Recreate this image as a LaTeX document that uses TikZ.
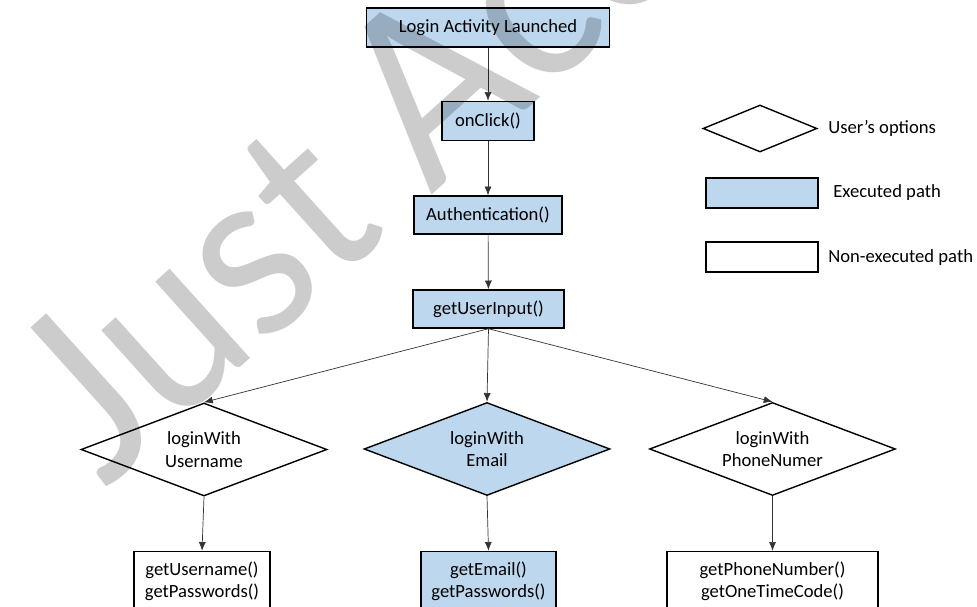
\documentclass[tikz,border=0pt]{standalone}
\usepackage{fontspec}
\setmainfont{Carlito}
\newfontfamily\wmfont{Lato}
\usetikzlibrary{shapes.geometric,arrows.meta}
\definecolor{execblue}{HTML}{BDD7EE}
\tikzset{
  lbl/.style={font=\fontsize{10.6}{12.8}\selectfont, align=center, inner sep=0pt},
  stepbox/.style={draw=black, line width=0.8pt, rectangle, lbl},
  exec/.style={fill=execblue},
  choice/.style={draw=black, line width=0.8pt, diamond, shape aspect=2.6, lbl,
    minimum width=4.92cm, minimum height=1.86cm},
  flow/.style={draw=black!80, line width=0.4pt, -{Latex[length=5pt,width=4pt]}},
  legendtxt/.style={font=\fontsize{10.6}{12.8}\selectfont, anchor=west, inner sep=0pt}
}
\begin{document}
\begin{tikzpicture}[x=0.02cm, y=-0.02cm]
\useasboundingbox (0,0) rectangle (977,607);
% main chain of executed steps
\node[stepbox, exec, minimum width=4.86cm, minimum height=0.78cm] (launch) at (488,27.5) {Login Activity Launched};
\node[stepbox, exec, minimum width=1.84cm, minimum height=0.78cm] (click) at (488,121) {onClick()};
\node[stepbox, exec, minimum width=2.96cm, minimum height=0.76cm] (auth) at (488,215) {Authentication()};
\node[stepbox, exec, minimum width=3.02cm, minimum height=0.76cm] (input) at (488.5,309) {getUserInput()};
% login choices
\node[choice] (byuser) at (204,449.5) {loginWith\\Username};
\node[choice, exec] (bymail) at (487,449) {loginWith\\Email};
\node[choice] (byphone) at (772.5,449) {loginWith\\PhoneNumer};
% credential retrieval
\node[stepbox, minimum width=2.72cm, minimum height=1.2cm] (userget) at (202,581.5) {getUsername()\\getPasswords()};
\node[stepbox, exec, minimum width=2.70cm, minimum height=1.2cm] (mailget) at (488.5,581.5) {getEmail()\\getPasswords()};
\node[stepbox, minimum width=4.22cm, minimum height=1.2cm] (phoneget) at (772.5,581.5) {getPhoneNumber()\\getOneTimeCode()};
% connectors
\draw[flow] (launch) -- (click);
\draw[flow] (click) -- (auth);
\draw[flow] (auth) -- (input);
\draw[flow] (input.south) -- (byuser.north);
\draw[flow] (input.south) -- (bymail.north);
\draw[flow] (input.south) -- (byphone.north);
\draw[flow] (byuser.south) -- (userget.north);
\draw[flow] (bymail.south) -- (mailget.north);
\draw[flow] (byphone.south) -- (phoneget.north);
% legend
\node[draw=black, line width=0.8pt, diamond, minimum width=2.28cm, minimum height=0.94cm, shape aspect=2.4, inner sep=0pt] (keychoice) at (760,128.5) {};
\node[legendtxt] (keychoicetxt) at (828,128) {User’s options};
\node[draw=black, line width=0.8pt, exec, minimum width=2.24cm, minimum height=0.6cm, inner sep=0pt] (keyexec) at (762,193) {};
\node[legendtxt] (keyexectxt) at (833,193) {Executed path};
\node[draw=black, line width=0.8pt, minimum width=2.24cm, minimum height=0.6cm, inner sep=0pt] (keyskip) at (762,257) {};
\node[legendtxt] (keyskiptxt) at (828,258) {Non-executed path};
% diagonal watermark, slightly narrowed
\node[font=\wmfont\fontsize{135}{135}\selectfont, text=black, text opacity=0.2, anchor=base west, rotate=42, xscale=0.92, inner sep=0pt] (wm) at (105,490) {Just Accepted};
\end{tikzpicture}
\end{document}
